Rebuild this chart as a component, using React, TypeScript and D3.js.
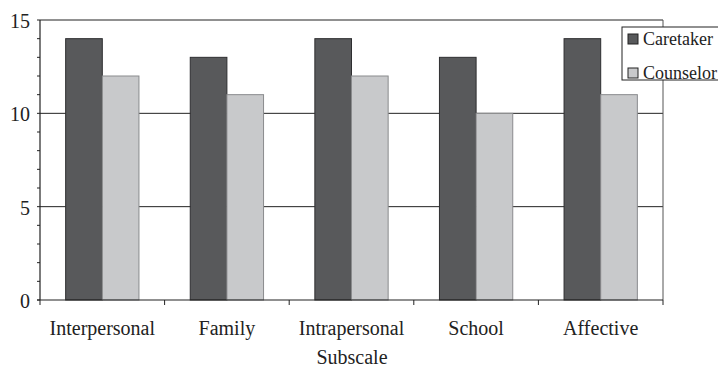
import React from "react";
import * as d3 from "d3";

const categories = ["Interpersonal", "Family", "Intrapersonal", "School", "Affective"];
const seriesNames = ["Caretaker", "Counselor"];
const caretaker = [14, 13, 14, 13, 14];
const counselor = [12, 11, 12, 10, 11];
const yTicks = [0, 5, 10, 15];

const colors = ["#58595b", "#c8c9cb"];
const strokes = ["#2e2e30", "#8a8b8d"];
const font = "Liberation Serif, Times New Roman, serif";

export default function App() {
  const W = 718, H = 368;
  const left = 40, right = 663, top = 20, bottom = 300;

  const x0 = d3.scaleBand<string>().domain(categories).range([left, right]).paddingInner(0).paddingOuter(0);
  const x1 = d3.scaleBand<string>().domain(seriesNames).range([0, x0.bandwidth()]).paddingInner(0).paddingOuter(0.7);
  const y = d3.scaleLinear().domain([0, 15]).range([bottom, top]);
  const minor = d3.range(0, 16, 1);
  const series = [caretaker, counselor];
  const legendY = [39, 73];

  return (
    <svg width={W} height={H} style={{ position: "absolute", left: 0, top: 0, background: "#fff" }} fontFamily={font}>
      {/* gridlines */}
      {yTicks.filter((t) => t > 0).map((t) => (
        <line key={t} x1={left} x2={right} y1={y(t)} y2={y(t)} stroke="#222" strokeWidth={1} />
      ))}
      {/* right frame */}
      <line x1={right} x2={right} y1={top} y2={bottom} stroke="#555" strokeWidth={1} />
      {/* bars */}
      {categories.map((c, i) => (
        <g key={c}>
          {series.map((s, j) => {
            const bx = (x0(c) as number) + (x1(seriesNames[j]) as number);
            return (
              <rect key={j} x={bx} y={y(s[i])} width={x1.bandwidth()} height={bottom - y(s[i])}
                fill={colors[j]} stroke={strokes[j]} strokeWidth={1} />
            );
          })}
        </g>
      ))}
      {/* y axis */}
      <line x1={left} x2={left} y1={top} y2={bottom} stroke="#222" strokeWidth={1.2} />
      {minor.map((t) => (
        <line key={t} x1={left - 3} x2={left} y1={y(t)} y2={y(t)} stroke="#222" strokeWidth={1} />
      ))}
      {yTicks.map((t) => (
        <text key={t} x={30} y={y(t) + 8} textAnchor="end" fontSize={20} fill="#222">{t}</text>
      ))}
      {/* x axis */}
      <line x1={left - 3} x2={right} y1={bottom} y2={bottom} stroke="#222" strokeWidth={1.2} />
      {categories.map((c) => (
        <line key={c} x1={x0(c) as number} x2={x0(c) as number} y1={bottom} y2={bottom + 5} stroke="#222" strokeWidth={1} />
      ))}
      <line x1={right} x2={right} y1={bottom} y2={bottom + 5} stroke="#222" strokeWidth={1} />
      {categories.map((c) => (
        <text key={c} x={(x0(c) as number) + x0.bandwidth() / 2} y={335} textAnchor="middle" fontSize={20} fill="#222">{c}</text>
      ))}
      <text x={352} y={364} textAnchor="middle" fontSize={20} fill="#222">Subscale</text>
      {/* legend */}
      <rect x={622} y={27} width={110} height={53} fill="#fff" stroke="#222" strokeWidth={1} />
      {seriesNames.map((n, j) => (
        <g key={n}>
          <rect x={628} y={legendY[j] - 5} width={10} height={10} fill={colors[j]} stroke="#222" strokeWidth={1} />
          <text x={643} y={legendY[j] + 6} fontSize={18} fill="#222">{n}</text>
        </g>
      ))}
    </svg>
  );
}
